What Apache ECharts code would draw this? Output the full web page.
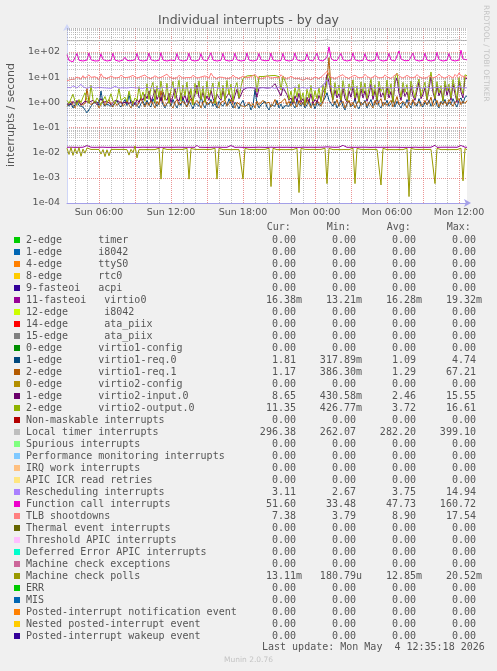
<!DOCTYPE html>
<html>
<head>
<meta charset="utf-8">
<script src="https://cdn.jsdelivr.net/npm/echarts@6.0.0/dist/echarts.min.js"></script>
<style>
html,body{margin:0;padding:0;background:#F0F0F0;}
#chart{width:497px;height:671px;}
</style>
</head>
<body>
<div id="chart"></div>
<script>
// ---------- DATA ----------
const legendNames = [
  "2-edge      timer","1-edge      i8042","4-edge      ttyS0","8-edge      rtc0","9-fasteoi   acpi",
  "11-fasteoi   virtio0","12-edge      i8042","14-edge      ata_piix","15-edge      ata_piix",
  "0-edge      virtio1-config","1-edge      virtio1-req.0","2-edge      virtio1-req.1",
  "0-edge      virtio2-config","1-edge      virtio2-input.0","2-edge      virtio2-output.0",
  "Non-maskable interrupts","Local timer interrupts","Spurious interrupts",
  "Performance monitoring interrupts","IRQ work interrupts","APIC ICR read retries",
  "Rescheduling interrupts","Function call interrupts","TLB shootdowns",
  "Thermal event interrupts","Threshold APIC interrupts","Deferred Error APIC interrupts",
  "Machine check exceptions","Machine check polls","ERR","MIS",
  "Posted-interrupt notification event","Nested posted-interrupt event","Posted-interrupt wakeup event"
];
const legendColors = [
  "#00CC00","#0066B3","#FF8000","#FFCC00","#330099","#990099","#CCFF00","#FF0000","#808080",
  "#008F00","#00487D","#B35A00","#B38F00","#6B006B","#8FB300","#B30000","#BEBEBE","#80FF80",
  "#80C9FF","#FFC080","#FFE680","#AA80FF","#EE00CC","#FF8080","#666600","#FFBFFF","#00FFCC",
  "#CC6699","#999900","#00CC00","#0066B3","#FF8000","#FFCC00","#330099"
];
const curText = ["0.00","0.00","0.00","0.00","0.00","16.38m","0.00","0.00","0.00","0.00","1.81","1.17","0.00","8.65","11.35","0.00","296.38","0.00","0.00","0.00","0.00","3.11","51.60","7.38","0.00","0.00","0.00","0.00","13.11m","0.00","0.00","0.00","0.00","0.00"];
const minText = ["0.00","0.00","0.00","0.00","0.00","13.21m","0.00","0.00","0.00","0.00","317.89m","386.30m","0.00","430.58m","426.77m","0.00","262.07","0.00","0.00","0.00","0.00","2.67","33.48","3.79","0.00","0.00","0.00","0.00","180.79u","0.00","0.00","0.00","0.00","0.00"];
const avgText = ["0.00","0.00","0.00","0.00","0.00","16.28m","0.00","0.00","0.00","0.00","1.09","1.29","0.00","2.46","3.72","0.00","282.20","0.00","0.00","0.00","0.00","3.75","47.73","8.90","0.00","0.00","0.00","0.00","12.85m","0.00","0.00","0.00","0.00","0.00"];
const maxText = ["0.00","0.00","0.00","0.00","0.00","19.32m","0.00","0.00","0.00","0.00","4.74","67.21","0.00","15.55","16.61","0.00","399.10","0.00","0.00","0.00","0.00","14.94","160.72","17.54","0.00","0.00","0.00","0.00","20.52m","0.00","0.00","0.00","0.00","0.00"];

const xTickLabels = ["Sun 06:00","Sun 12:00","Sun 18:00","Mon 00:00","Mon 06:00","Mon 12:00"];
const yTickLabels = ["1e-04","1e-03","1e-02","1e-01","1e+00","1e+01","1e+02"];
const yTickValues = [1e-4,1e-3,1e-2,1e-1,1,10,100];

// samples every 10 minutes, first sample Sun 03:20
const startMinute = 200;
const stepMinutes = 10;

const localTimerVals = [
285,283,281,284,280,279,282,286,284,281,
280,283,285,282,279,281,284,287,285,282,
279,280,283,288,292,286,283,281,279,282,
284,281,278,280,283,285,282,279,277,280,
283,286,284,281,279,282,285,283,280,278,
281,284,282,279,277,280,283,286,290,285,
282,280,278,281,284,282,279,277,280,283,
281,278,276,279,282,284,281,278,276,279,
282,285,283,280,277,279,283,286,284,281,
278,276,279,282,280,277,275,278,281,283,
280,277,279,282,285,283,280,278,276,279,
282,280,277,275,278,281,284,282,279,276,
278,281,279,276,274,277,280,283,288,295,
305,290,284,281,278,280,283,281,278,276,
279,282,280,277,275,278,281,283,280,277,
279,282,285,288,284,281,278,280,283,286,
283,280,278,281,284,282,279,277,280,283,
286,284,281,279,282,285,283,280,278,281,
284,287,285,282,280,283,286,289,292,288,
285,283,286,290,298,340,300,288,284,286,
289];

const funcCallVals = [
78,46,44,41,43,88,47,45,44,46,
48,92,49,45,44,47,45,86,50,46,
44,45,47,90,48,45,43,46,48,62,
46,44,45,47,49,89,48,45,44,46,
47,91,49,46,44,45,47,94,48,45,
44,46,48,47,45,88,49,46,44,45,
47,90,48,45,44,46,48,87,49,46,
44,45,93,48,46,44,45,47,89,48,
45,44,46,47,90,49,46,44,45,47,
92,48,45,44,46,48,88,49,46,45,
44,46,91,48,45,44,47,46,89,48,
45,44,46,48,92,49,46,44,45,47,
86,48,45,44,46,90,48,45,44,46,
62,160,58,47,45,46,48,88,49,46,
44,46,48,93,49,46,44,45,47,87,
48,45,44,46,48,95,50,46,44,45,
47,89,48,45,44,46,110,52,47,45,
44,46,48,91,49,46,44,45,47,90,
48,45,44,46,48,96,50,46,44,45,
47,88,49,46,44,46,48,118,52,47,
49];

const tlbVals = [
7.2,6.8,8.1,9.5,8.4,10.2,9.1,8.3,11.5,9.0,
8.6,12.4,9.8,8.9,10.5,9.2,8.0,13.6,10.1,9.3,
8.7,9.9,11.2,10.4,9.1,8.5,9.8,12.1,10.6,9.4,
8.8,10.1,9.3,11.8,10.2,9.0,8.4,10.7,9.6,12.3,
10.0,9.2,8.6,9.9,11.4,10.3,9.1,8.7,10.8,9.5,
13.2,10.4,9.3,8.8,10.1,9.4,11.9,10.2,9.0,8.5,
9.7,10.9,9.6,12.0,10.3,9.1,8.9,10.2,9.4,11.3,
10.0,9.2,14.5,10.8,9.6,8.4,10.1,11.6,9.8,9.0,
8.6,10.3,9.5,12.2,10.1,9.3,8.7,9.9,11.1,10.2,
9.4,8.9,10.6,9.7,12.8,10.3,9.2,8.5,10.0,9.3,
11.4,10.1,9.0,8.6,9.8,10.7,9.4,12.5,10.2,9.1,
8.4,9.6,10.9,9.8,8.7,7.9,8.8,9.4,7.6,8.2,
9.1,8.5,7.8,8.9,10.2,9.3,8.6,9.7,11.8,13.5,
16.8,12.4,10.1,9.2,8.4,9.6,10.8,9.9,12.6,10.3,
9.4,8.7,10.5,9.6,11.9,10.4,9.3,8.6,10.0,13.1,
10.6,9.5,8.9,10.2,11.7,10.1,9.2,8.5,9.9,12.4,
10.3,9.4,8.8,10.6,9.7,13.8,11.2,9.9,9.1,10.4,
11.9,10.2,9.3,8.7,10.1,12.7,10.5,9.6,8.9,10.3,
9.5,11.6,10.4,9.2,8.6,10.9,13.4,10.7,9.8,9.0,
10.2,11.8,9.9,9.1,12.9,10.6,14.7,11.3,9.8,10.5,
9.7];

const reschedVals = [
3.9,4.1,3.8,4.6,4.0,3.7,3.9,5.2,4.1,3.8,
3.6,3.9,4.2,3.8,3.7,4.0,3.9,3.6,3.8,4.1,
3.7,3.9,3.6,3.8,4.3,3.9,3.7,3.5,3.8,4.0,
3.7,3.6,3.9,4.1,3.8,3.6,3.7,3.9,3.6,3.8,
4.0,3.7,3.6,3.8,3.9,3.7,3.5,3.8,4.0,3.7,
3.6,3.8,4.1,3.7,3.6,3.9,3.8,3.6,3.7,3.9,
3.7,3.5,3.8,4.0,3.7,3.6,3.8,3.9,3.7,3.6,
3.8,4.0,3.7,3.6,3.9,3.8,3.6,3.7,3.9,3.8,
3.6,3.7,3.9,4.1,3.8,3.6,3.7,3.9,3.7,3.6,
3.8,4.0,3.7,3.5,3.8,3.9,3.7,3.6,3.8,4.0,
3.7,3.6,3.9,3.8,3.6,3.7,4.0,3.8,3.6,3.7,
3.9,3.7,3.6,3.8,4.1,3.7,3.6,3.8,3.9,3.7,
3.6,3.8,4.0,3.7,3.6,3.9,3.8,4.2,4.6,5.5,
7.8,5.1,4.2,3.9,3.7,3.8,4.0,3.7,3.6,3.8,
3.9,3.7,3.6,3.8,4.0,3.7,3.6,3.9,3.8,3.6,
3.7,3.9,4.1,3.8,3.6,3.7,3.9,3.8,3.6,3.7,
4.0,3.8,3.6,3.7,3.9,4.2,3.8,3.6,3.7,3.9,
3.8,3.6,3.7,4.0,3.8,3.6,3.9,3.7,3.6,3.8,
4.1,3.8,3.6,3.7,3.9,4.3,3.9,3.7,3.6,3.8,
3.9,3.7,4.0,3.8,3.6,3.9,4.4,3.8,3.7,3.9,
3.8];

const virtio2OutputVals = [
1.2,0.9,1.4,2.1,1.1,0.8,1.3,1.0,1.6,2.4,
1.2,0.9,4.8,1.3,1.0,1.5,1.1,0.8,1.2,1.7,
1.0,1.3,2.2,1.1,0.9,1.4,3.5,1.2,1.0,1.6,
1.1,2.8,1.3,0.9,1.5,1.2,4.2,1.4,2.6,1.1,
5.5,1.3,3.8,6.2,1.0,4.5,1.6,7.1,2.2,1.2,
5.8,0.9,3.2,6.8,1.4,2.5,7.5,1.1,4.9,1.8,
6.4,1.2,3.6,0.8,5.7,2.1,7.2,1.3,4.4,1.0,
6.9,1.6,3.1,5.9,0.9,2.7,6.6,1.4,4.8,1.2,
7.4,2.0,5.3,1.1,3.9,6.1,1.5,4.2,8.8,10.5,
11.2,10.8,11.6,10.9,11.4,2.6,10.7,11.3,10.6,11.8,
11.1,10.4,11.5,10.8,11.7,11.0,10.5,3.1,11.2,10.6,
4.6,1.3,2.8,1.0,3.9,1.6,5.2,1.2,2.4,0.8,
3.3,1.5,4.7,1.1,2.9,1.4,3.8,1.0,5.1,2.2,
8.5,15.2,4.2,1.3,6.1,2.0,4.9,1.2,7.3,2.6,
1.1,5.4,3.0,7.8,1.5,4.4,1.0,6.5,2.3,5.9,
1.4,3.7,8.2,1.8,5.0,1.2,6.9,2.7,4.1,1.3,
7.6,2.1,5.5,1.0,9.8,14.6,4.3,1.6,6.2,2.5,
5.1,1.2,7.0,3.2,1.5,4.8,8.4,1.7,3.5,6.3,
1.3,5.6,16.1,3.9,1.4,6.7,2.4,4.6,1.1,7.2,
2.9,5.3,1.5,8.1,3.4,1.2,9.6,4.0,2.2,12.4,
11.35];

const virtio2InputVals = [
0.9,1.0,0.8,1.1,0.9,1.2,1.0,0.8,0.9,1.1,
1.3,1.0,0.9,1.2,1.0,0.8,1.1,1.4,1.0,0.9,
1.1,1.0,0.8,0.9,1.2,1.0,1.1,0.9,0.8,1.0,
1.2,0.9,1.0,1.1,0.8,1.3,1.0,1.6,1.2,2.1,
1.4,2.8,1.1,1.7,3.2,1.3,2.0,1.1,2.6,1.5,
1.2,2.3,1.0,1.8,3.5,1.4,1.1,2.4,1.3,1.9,
1.0,2.7,1.5,1.2,2.2,4.8,1.6,1.3,2.5,1.1,
1.8,1.2,3.0,1.4,1.0,2.1,1.5,1.2,2.9,1.3,
1.1,2.4,1.6,1.0,1.9,3.3,1.4,2.0,3.1,3.6,
3.8,3.5,3.9,3.6,3.7,1.6,3.8,3.5,3.9,3.6,
3.7,3.4,3.8,3.6,5.5,3.7,3.5,1.8,3.9,3.6,
2.0,1.2,1.5,0.9,1.8,1.1,2.3,1.0,1.4,0.8,
1.6,1.1,2.2,0.9,1.3,1.0,1.9,1.2,2.6,3.5,
12.5,6.2,2.4,1.3,3.1,1.5,2.2,1.1,3.6,1.4,
1.0,2.8,1.6,4.2,1.2,2.5,1.0,3.4,1.5,2.9,
1.1,2.0,5.2,1.3,3.0,1.1,3.9,1.6,2.4,1.2,
4.1,1.5,2.7,1.0,5.9,9.4,2.3,1.2,3.5,1.7,
2.6,1.1,4.4,1.8,1.2,2.9,6.3,1.4,2.1,3.8,
1.2,3.3,11.8,2.5,1.3,4.6,1.8,3.0,1.1,5.0,
1.9,3.6,1.2,5.4,2.2,1.0,7.1,2.6,1.5,9.2,
8.65];

const virtio1Req0Vals = [
0.85,0.7,0.95,0.6,0.8,1.1,0.75,0.9,0.65,0.5,
0.38,0.45,0.7,0.9,0.8,1.05,0.75,2.8,0.9,0.7,
0.85,1.0,0.7,0.6,0.9,1.2,0.8,0.65,0.95,1.3,
0.75,2.1,0.9,0.7,1.0,0.8,0.6,0.9,1.1,0.75,
1.2,0.8,0.65,1.4,0.9,0.7,1.0,1.6,0.8,0.6,
0.9,1.1,0.7,1.3,0.85,0.6,1.0,0.75,1.5,0.9,
0.7,1.2,0.8,0.55,0.95,1.1,0.7,1.8,0.85,0.6,
1.0,0.8,1.3,0.7,0.9,0.6,1.1,0.85,0.7,1.0,
0.75,1.4,0.9,0.6,1.0,0.8,0.55,0.9,1.2,0.7,
0.6,0.85,0.5,0.75,3.2,0.9,0.6,0.8,0.7,1.1,
0.65,0.5,0.8,0.9,0.7,1.2,0.6,0.85,0.55,0.75,
0.9,0.7,1.1,0.8,0.6,1.3,0.85,0.7,1.0,0.6,
0.8,1.2,0.7,0.9,0.55,1.0,0.75,0.85,1.1,1.5,
2.4,1.2,0.9,0.7,1.1,0.6,0.8,1.3,0.7,0.5,
0.9,1.1,0.65,0.8,1.4,0.7,0.55,1.0,0.8,1.2,
0.6,0.9,1.3,0.7,0.85,1.6,0.75,0.6,1.0,0.8,
1.2,0.7,0.9,1.5,0.65,1.1,0.8,0.6,1.0,0.75,
1.3,0.8,0.6,1.1,0.9,0.7,1.4,0.85,0.65,1.0,
0.8,1.2,0.7,0.95,1.6,0.75,0.6,1.1,0.85,1.3,
0.7,1.0,0.8,1.4,0.9,0.65,1.2,1.5,0.9,1.6,
1.81];

const virtio1Req1Vals = [
0.7,0.9,1.1,0.8,0.6,0.95,1.2,0.75,0.65,0.9,
3.6,1.0,0.8,0.7,1.1,0.9,0.6,0.85,1.2,0.75,
0.9,1.3,0.8,0.65,1.0,0.75,0.9,1.1,0.7,0.85,
1.2,0.8,0.6,0.95,1.1,0.7,0.8,1.4,0.9,0.65,
1.0,0.75,1.2,0.85,0.6,1.1,0.8,2.9,1.0,0.7,
0.9,1.2,0.75,0.6,1.0,1.3,0.8,0.7,1.1,0.85,
0.65,1.0,1.4,0.8,0.7,1.2,0.9,0.6,1.0,1.3,
0.8,0.7,1.1,0.9,1.5,0.75,0.6,1.0,0.85,1.2,
0.7,0.9,1.3,0.8,0.6,1.0,1.1,0.75,0.9,0.65,
0.8,1.0,0.7,0.9,0.6,1.1,0.8,0.7,1.2,0.9,
0.75,1.0,0.65,0.85,1.3,0.8,0.7,1.0,0.9,1.4,
0.8,1.1,0.7,1.5,0.9,0.65,1.2,0.8,1.0,0.7,
1.3,0.85,0.6,1.0,0.75,1.2,0.9,0.7,1.1,2.5,
8.4,60.0,3.2,1.0,0.8,1.3,0.7,0.9,1.1,0.6,
0.85,1.2,0.7,1.0,0.6,0.9,1.3,0.75,0.8,1.1,
0.7,1.0,0.85,0.6,1.2,0.8,0.9,1.4,0.7,1.0,
0.75,0.9,1.2,0.65,1.0,1.7,0.8,0.7,1.1,0.9,
0.6,1.0,0.8,1.3,0.75,0.9,1.1,0.7,0.85,1.2,
0.8,1.0,1.6,0.7,0.9,1.2,0.65,1.0,0.8,1.1,
0.75,1.3,0.9,0.7,1.0,0.85,1.4,0.8,1.1,0.9,
1.17];

const virtio0Vals = [
.0164,.0163,.0165,.0162,.0163,.0164,.0163,.0162,.0164,.0165,
.0192,.0163,.0164,.0190,.0163,.0162,.0164,.0163,.0165,.0163,
.0162,.0164,.0163,.0165,.0162,.0163,.0164,.0196,.0163,.0162,
.0164,.0163,.0165,.0162,.0163,.0164,.0162,.0163,.0165,.0194,
.0163,.0162,.0164,.0163,.0165,.0162,.0163,.0164,.0163,.0162,
.0164,.0165,.0163,.0162,.0164,.0163,.0165,.0162,.0163,.0164,
.0163,.0162,.0164,.0165,.0163,.0198,.0164,.0162,.0163,.0165,
.0162,.0164,.0163,.0162,.0165,.0163,.0164,.0162,.0163,.0165,
.0163,.0164,.0193,.0163,.0162,.0164,.0165,.0163,.0162,.0164,
.0163,.0165,.0162,.0164,.0163,.0162,.0165,.0195,.0163,.0164,
.0162,.0163,.0165,.0164,.0162,.0163,.0164,.0165,.0163,.0162,
.0164,.0163,.0162,.0165,.0163,.0164,.0162,.0163,.0165,.0164,
.0163,.0162,.0164,.0165,.0163,.0162,.0164,.0163,.0165,.0162,
.0170,.0199,.0166,.0164,.0163,.0162,.0165,.0163,.0196,.0164,
.0163,.0162,.0164,.0165,.0163,.0162,.0164,.0163,.0165,.0162,
.0164,.0163,.0162,.0165,.0164,.0193,.0163,.0162,.0164,.0165,
.0163,.0162,.0164,.0163,.0165,.0162,.0163,.0164,.0162,.0165,
.0163,.0164,.0162,.0163,.0165,.0164,.0162,.0163,.0164,.0165,
.0163,.0162,.0164,.0165,.0197,.0163,.0162,.0164,.0163,.0165,
.0162,.0164,.0163,.0165,.0162,.0163,.0164,.0194,.0163,.0164,
.0164];

const mcePollVals = [
.0150,.0085,.0160,.0078,.0145,.0090,.0158,.0072,.0140,.0095,
.0155,.0132,.0134,.0133,.0135,.0132,.0134,.0088,.0133,.0070,
.0131,.0075,.0134,.0133,.0135,.0132,.0134,.0133,.0135,.0134,
.0132,.0080,.0136,.0100,.0185,.0062,.0133,.0134,.0132,.0135,
.0133,.0134,.0132,.0135,.0133,.0134,.0150,.00089,.0148,.0133,
.0134,.0132,.0135,.0133,.0134,.0132,.0135,.0133,.0134,.0132,
.0150,.00089,.0147,.0133,.0135,.0132,.0134,.0133,.0135,.0132,
.0134,.0133,.0135,.0132,.0150,.00089,.0148,.0134,.0132,.0135,
.0133,.0134,.0132,.0135,.0133,.0134,.0132,.0150,.00089,.0147,
.0133,.0135,.0132,.0134,.0133,.0135,.0132,.0134,.0133,.0135,
.0132,.0150,.00045,.0148,.0134,.0132,.0135,.0133,.0134,.0132,
.0135,.0133,.0134,.0132,.0135,.0150,.00026,.0147,.0133,.0135,
.0132,.0134,.0133,.0135,.0132,.0134,.0133,.0135,.0132,.0150,
.00059,.0148,.0134,.0132,.0135,.0133,.0134,.0132,.0135,.0133,
.0134,.0132,.0135,.0150,.00059,.0147,.0133,.0135,.0132,.0134,
.0133,.0135,.0132,.0134,.0133,.0135,.0150,.00052,.0148,.0134,
.0132,.0135,.0133,.0134,.0132,.0135,.0133,.0134,.0132,.0135,
.0150,.00018,.0147,.0133,.0135,.0132,.0134,.0133,.0135,.0132,
.0134,.0133,.0135,.0150,.00059,.0148,.0134,.0132,.0135,.0133,
.0134,.0132,.0135,.0133,.0134,.0132,.0135,.0150,.00076,.0147,
.0131];

// which legend entries have a drawn line (others are all zero)
const plottedSeries = [
  [5, virtio0Vals],[10, virtio1Req0Vals],[11, virtio1Req1Vals],[13, virtio2InputVals],
  [14, virtio2OutputVals],[16, localTimerVals],[21, reschedVals],[22, funcCallVals],
  [23, tlbVals],[28, mcePollVals]
];

// ---------- BUILD ----------
const pad2 = n => (n < 10 ? "0" : "") + n;
const minuteOf = i => startMinute + stepMinutes * i;
const timeCats = localTimerVals.map((_, i) => {
  const m = minuteOf(i);
  const day = m >= 1440 ? "Mon" : "Sun";
  const mm = m % 1440;
  return day + " " + pad2(Math.floor(mm / 60)) + ":" + pad2(mm % 60);
});

const minorY = [];
yTickValues.forEach(d => { for (let k = 2; k <= 9; k++) minorY.push({ yAxis: d * k }); });

const gridMinor = { color: "rgba(143,143,143,0.55)", type: [1, 1], width: 1 };
const gridMajor = { color: "rgba(222,79,79,0.6)", type: [1, 1], width: 1 };

const series = [{
  type: "line", data: [], z: 0, silent: true, animation: false,
  markLine: { silent: true, symbol: ["none", "none"], label: { show: false },
    lineStyle: gridMinor, animation: false, data: minorY }
}];
plottedSeries.forEach(([idx, vals]) => {
  series.push({
    name: legendNames[idx], type: "line", data: vals, showSymbol: false, symbol: "none",
    lineStyle: { width: 1, color: legendColors[idx] }, itemStyle: { color: legendColors[idx] },
    animation: false, z: 2, emphasis: { disabled: true }
  });
});

const MONO = '10px "DejaVu Sans Mono"';
const TXT = "#555555";
const graphics = [];
function txt(x, y, s, align, font, fill, extra) {
  return Object.assign({ type: "text", x: x, y: y, silent: true,
    style: { text: s, x: 0, y: 0, font: font || MONO, fill: fill || TXT,
      align: align || "left", textAlign: align || "left",
      verticalAlign: "middle", textVerticalAlign: "middle" } }, extra || {});
}
const colRight = [302, 362, 422, 482];
["Cur:", "Min:", "Avg:", "Max:"].forEach((h, c) => graphics.push(txt(colRight[c] - 35.3, 227.5, h)));
legendNames.forEach((name, r) => {
  const y = 240 + 12 * r;
  graphics.push({ type: "rect", silent: true, shape: { x: 14, y: y - 3, width: 6, height: 6 },
    style: { fill: legendColors[r] } });
  graphics.push(txt(26, y, name));
  [curText, minText, avgText, maxText].forEach((arr, c) => {
    const s = arr[r];
    const suffix = /[a-z]$/i.test(s);
    graphics.push(txt(colRight[c] - (suffix ? 0 : 6.02), y, s, "right"));
  });
});
graphics.push(txt(262, 647.5, "Last update: Mon May  4 12:35:18 2026"));
graphics.push(txt(248.5, 660, "Munin 2.0.76", "center", '7.5px "DejaVu Sans"', "#c4c4c4"));
graphics.push(txt(11, 115, "interrupts / second", "center", '11px "DejaVu Sans"', TXT, { rotation: Math.PI / 2 }));
graphics.push(txt(486, 5, "RRDTOOL / TOBI OETIKER", "left", '7.5px "DejaVu Sans"', "#c4c4c4", { rotation: -Math.PI / 2 }));

const option = {
  backgroundColor: "#F0F0F0",
  animation: false,
  title: { text: "Individual interrupts - by day", left: "center", top: 9,
    textStyle: { fontFamily: "DejaVu Sans", fontSize: 12.5, fontWeight: "normal", color: TXT } },
  grid: { left: 67, top: 28, width: 400, height: 175, show: true, backgroundColor: "#FFFFFF", borderWidth: 0 },
  xAxis: [{
    type: "category", data: timeCats, boundaryGap: false, z: 1,
    axisLine: { show: true, lineStyle: { color: "#A4A0E8", width: 1 }, symbol: ["none", "arrow"], symbolSize: [6, 7], symbolOffset: [0, 4] },
    axisTick: { show: false },
    axisLabel: { interval: (i, v) => xTickLabels.indexOf(v) >= 0, color: TXT, fontFamily: "DejaVu Sans", fontSize: 9.5, margin: 5 },
    splitLine: { show: true, interval: (i) => minuteOf(i) % 180 === 0, lineStyle: gridMajor }
  }, {
    type: "category", data: timeCats, boundaryGap: false, z: 0, position: "bottom",
    axisLine: { show: false }, axisTick: { show: false }, axisLabel: { show: false },
    splitLine: { show: true, interval: (i) => minuteOf(i) % 60 === 0 && minuteOf(i) % 180 !== 0, lineStyle: gridMinor }
  }],
  yAxis: {
    type: "log", logBase: 10, min: 1e-4, max: 900, splitNumber: 10, z: 1,
    axisLine: { show: true, lineStyle: { color: "#CFD6F8", width: 1 }, symbol: ["none", "arrow"], symbolSize: [6, 7], symbolOffset: [0, 4] },
    axisTick: { show: false },
    axisLabel: { color: TXT, fontFamily: "DejaVu Sans", fontSize: 9.5, margin: 7,
      showMaxLabel: false,
      formatter: v => { const k = yTickValues.findIndex(t => Math.abs(Math.log10(t) - Math.log10(v)) < 1e-6); return k >= 0 ? yTickLabels[k] : ""; } },
    splitLine: { show: true, showMinLine: false, showMaxLine: false, lineStyle: gridMajor }
  },
  series: series,
  graphic: { elements: graphics }
};

const chart = echarts.init(document.getElementById("chart"), null, { renderer: "canvas" });
chart.setOption(option);
</script>
</body>
</html>
